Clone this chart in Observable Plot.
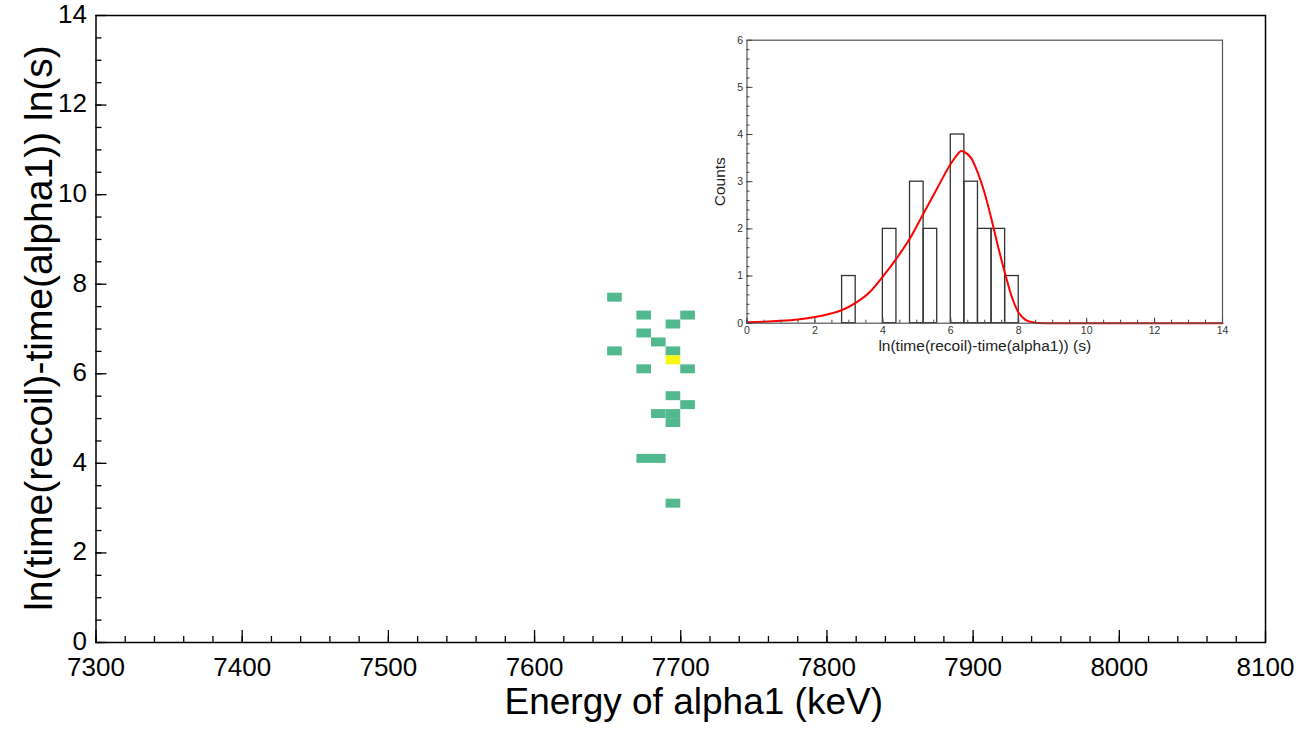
<!DOCTYPE html>
<html><head><meta charset="utf-8">
<script src="https://cdn.jsdelivr.net/npm/d3@7"></script>
<script src="https://cdn.jsdelivr.net/npm/@observablehq/plot@0.6"></script>
<style>
html,body{margin:0;padding:0;background:#fff;}
#wrap{position:relative;width:1296px;height:731px;overflow:hidden;font-family:"Liberation Sans",Arial,sans-serif;}
#main{position:absolute;left:0;top:0;}
#inset{position:absolute;left:700px;top:28px;}
</style></head><body><div id="wrap"><div id="main"></div><div id="inset"></div></div>
<script>
// ---- main 2D histogram cells (bin low edges) ----
const cellEnergy = [7650,7670,7700,7690,7670,7680,7650,7690,7690,7670,7700,7690,7700,7680,7690,7690,7670,7680,7690];
const cellTime   = [7.6,7.2,7.2,7.0,6.8,6.6,6.4,6.4,6.2,6.0,6.0,5.4,5.2,5.0,5.0,4.8,4.0,4.0,3.0];
const cellCount  = [1,1,1,1,1,1,1,1,2,1,1,1,1,1,1,1,1,1,1];
const energyBinWidth = 10;
const timeBinWidth = 0.2;

const xTickLabels = [7300,7400,7500,7600,7700,7800,7900,8000,8100];
const yTickLabels = [0,2,4,6,8,10,12,14];

// ---- inset 1D histogram ----
const histLow = [2.8,4.0,4.8,5.2,6.0,6.4,6.8,7.2,7.6];
const histCounts = [1,2,3,2,4,3,2,2,1];
const histBinWidth = 0.4;

// ---- inset fit curve ----
const fitX = [0,0.5,1,1.5,2,2.5,2.8,3.2,3.6,4.0,4.4,4.8,5.2,5.6,6.0,6.2,6.3,6.4,6.6,6.8,7.0,7.2,7.4,7.6,7.8,8.0,8.2,8.4,8.6,9,10,12,14];
const fitY = [0.02,0.03,0.05,0.08,0.13,0.21,0.28,0.43,0.65,0.99,1.37,1.80,2.33,2.86,3.38,3.58,3.65,3.63,3.5,3.18,2.75,2.2,1.6,1.05,0.55,0.22,0.07,0.02,0.005,0,0,0,0];

const insetXTicks = [0,2,4,6,8,10,12,14];
const insetYTicks = [0,1,2,3,4,5,6];

const cells = cellEnergy.map((e,i)=>({e, t: cellTime[i], c: cellCount[i]}));
const hist = histLow.map((x,i)=>({x, c: histCounts[i]}));
const fit = fitX.map((x,i)=>({x, y: fitY[i]}));

const font = '"Liberation Sans", Arial, sans-serif';

const main = Plot.plot({
  width: 1296, height: 731,
  marginLeft: 95.5, marginRight: 31, marginTop: 15, marginBottom: 89,
  style: {fontFamily: font, background: "#fff", color: "#000"},
  x: {domain: [7300, 8100]},
  y: {domain: [0, 14]},
  color: {type: "ordinal", domain: [1, 2], range: ["#52b98f", "#f7f70f"]},
  marks: [
    Plot.rect(cells, {x1: "e", x2: d => d.e + energyBinWidth, y1: "t", y2: d => d.t + timeBinWidth, fill: "c"}),
    Plot.frame({stroke: "#000", strokeWidth: 1.5}),
    Plot.axisX({ticks: xTickLabels, tickSize: 12, dy: -12, tickFormat: () => "", label: null, strokeWidth: 1.3}),
    Plot.axisX({ticks: d3.range(7300, 8100, 20), tickSize: 6, dy: -6, tickFormat: () => "", label: null, strokeWidth: 1.3}),
    Plot.axisY({ticks: yTickLabels, tickSize: 11, dx: 11, tickFormat: () => "", label: null, strokeWidth: 1.3}),
    Plot.axisY({ticks: d3.range(0, 14, 0.5), tickSize: 6, dx: 6, tickFormat: () => "", label: null, strokeWidth: 1.3}),
    Plot.axisX({ticks: xTickLabels, tickSize: 0, tickPadding: 15, tickFormat: d => String(d), label: null, fontSize: 26, fill: "#000"}),
    Plot.axisY({ticks: yTickLabels, tickSize: 0, tickPadding: 9, dy: -1, tickFormat: d => String(d), label: null, fontSize: 26, fill: "#000"}),
    Plot.text(["Energy of alpha1 (keV)"], {frameAnchor: "bottom", dy: 71, dx: 13, fontSize: 37, fill: "#000"}),
    Plot.text(["ln(time(recoil)-time(alpha1)) ln(s)"], {frameAnchor: "left", dx: -56, dy: -1, rotate: -90, textAnchor: "middle", fontSize: 39, fill: "#000"})
  ]
});
document.getElementById("main").append(main);

const inset = Plot.plot({
  width: 540, height: 340,
  marginLeft: 46.5, marginRight: 18, marginTop: 11.7, marginBottom: 45.3,
  style: {fontFamily: font, background: "transparent", color: "#333"},
  x: {domain: [0, 14]},
  y: {domain: [0, 6]},
  marks: [
    Plot.rect(hist, {x1: "x", x2: d => d.x + histBinWidth, y1: 0, y2: "c", stroke: "#333", strokeWidth: 1.3, fill: "none"}),
    Plot.line(fit, {x: "x", y: "y", stroke: "#ff0000", strokeWidth: 2, curve: "monotone-x"}),
    Plot.frame({stroke: "#555", strokeWidth: 1.2}),
    Plot.axisX({ticks: insetXTicks, tickSize: 5, dy: -5, tickFormat: () => "", label: null, stroke: "#444"}),
    Plot.axisX({ticks: d3.range(0, 14, 0.5), tickSize: 3, dy: -3, tickFormat: () => "", label: null, stroke: "#444"}),
    Plot.axisY({ticks: insetYTicks, tickSize: 6, dx: 6, tickFormat: () => "", label: null, stroke: "#444"}),
    Plot.axisY({ticks: d3.range(0, 6, 0.2), tickSize: 3, dx: 3, tickFormat: () => "", label: null, stroke: "#444"}),
    Plot.axisX({ticks: insetXTicks, tickSize: 0, tickPadding: 3, tickFormat: d => String(d), label: null, fontSize: 10.5, fill: "#333"}),
    Plot.axisY({ticks: insetYTicks, tickSize: 0, tickPadding: 4, tickFormat: d => String(d), label: null, fontSize: 10.5, fill: "#333"}),
    Plot.text(["ln(time(recoil)-time(alpha1)) (s)"], {frameAnchor: "bottom", dy: 28, fontSize: 15.5, fill: "#222"}),
    Plot.text(["Counts"], {frameAnchor: "left", dx: -27, rotate: -90, textAnchor: "middle", fontSize: 15.5, fill: "#222"})
  ]
});
document.getElementById("inset").append(inset);
</script></body></html>
